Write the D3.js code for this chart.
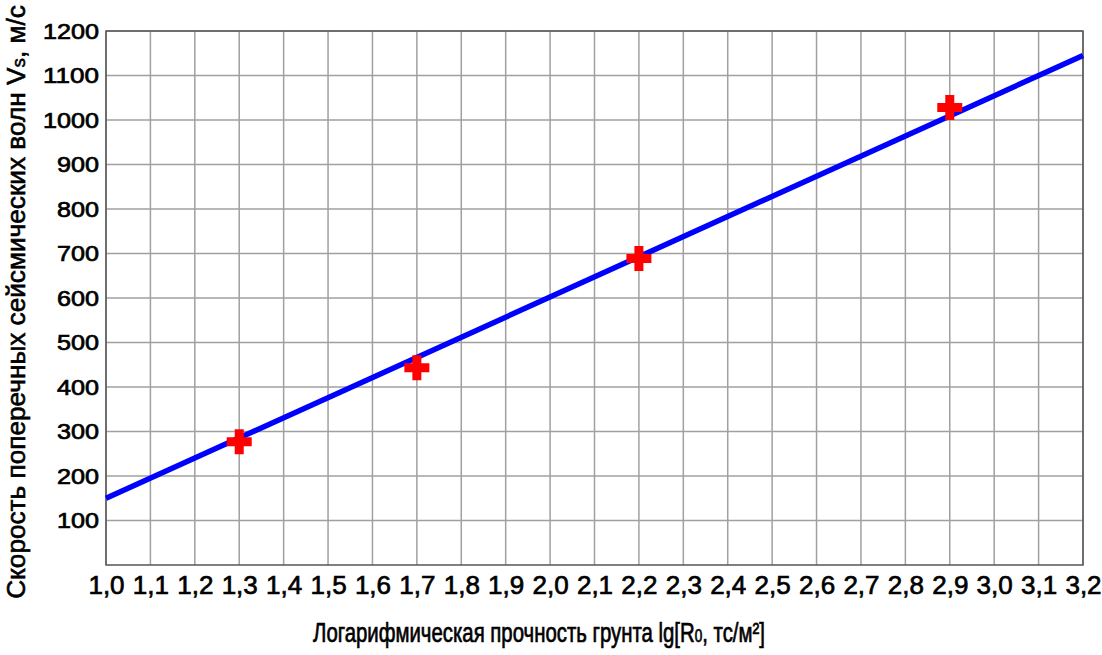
<!DOCTYPE html>
<html>
<head>
<meta charset="utf-8">
<script src="https://cdn.jsdelivr.net/npm/d3@7"></script>
<style>
  body { margin: 0; background: #fff; }
  svg { display: block; font-family: "Liberation Sans", Arial, sans-serif; }
</style>
</head>
<body>
<div id="chart"></div>
<script>
// measured points (lg R0 -> Vs)
const pointX = [1.3, 1.7, 2.2, 2.9];
const pointY = [277, 443, 689, 1028];
// regression line ends
const lineX = [1.0, 3.2];
const lineY = [150, 1145];
const xTicks = d3.range(10, 33).map(d => d / 10);
const yTicks = d3.range(100, 1201, 100);

const W = 1102, H = 655;
const margin = { top: 31, right: 19, bottom: 90, left: 106 };
const width = W - margin.left - margin.right;
const height = H - margin.top - margin.bottom;
const font = '"Liberation Sans", Arial, sans-serif';

const svg = d3.select('#chart').append('svg')
    .attr('width', W)
    .attr('height', H);

const g = svg.append('g')
    .attr('transform', `translate(${margin.left},${margin.top})`);

const x = d3.scaleLinear().domain([1.0, 3.2]).range([0, width]);
const y = d3.scaleLinear().domain([0, 1200]).range([height, 0]);

// grid
g.append('g').selectAll('line').data(xTicks).join('line')
    .attr('x1', d => x(d)).attr('x2', d => x(d))
    .attr('y1', 0).attr('y2', height)
    .attr('stroke', '#a0a0a0').attr('stroke-width', 1.5);
g.append('g').selectAll('line').data(yTicks).join('line')
    .attr('x1', 0).attr('x2', width)
    .attr('y1', d => y(d)).attr('y2', d => y(d))
    .attr('stroke', '#a0a0a0').attr('stroke-width', 1.5);

// frame
g.append('rect')
    .attr('width', width).attr('height', height)
    .attr('fill', 'none').attr('stroke', '#555').attr('stroke-width', 1.5);

// axes (labels only)
const xAxis = g.append('g')
    .attr('transform', `translate(0,${height})`)
    .call(d3.axisBottom(x).tickValues(xTicks).tickSize(0).tickPadding(11)
        .tickFormat(d => d3.format('.1f')(d).replace('.', ',')));
xAxis.select('.domain').remove();
xAxis.selectAll('text')
    .style('font-size', '26px').style('font-family', font)
    .attr('fill', '#000').attr('stroke', '#000').attr('stroke-width', 0.7);

const yAxis = g.append('g')
    .call(d3.axisLeft(y).tickValues(yTicks).tickSize(0).tickPadding(7)
        .tickFormat(d3.format('d')));
yAxis.select('.domain').remove();
yAxis.selectAll('text')
    .style('font-size', '22px').style('font-family', font)
    .attr('fill', '#000').attr('stroke', '#000').attr('stroke-width', 0.7)
    .attr('textLength', d => String(d).length * 14)
    .attr('lengthAdjust', 'spacingAndGlyphs');

// regression line
const lineData = lineX.map((d, i) => [d, lineY[i]]);
g.append('path')
    .datum(lineData)
    .attr('d', d3.line().x(d => x(d[0])).y(d => y(d[1])))
    .attr('stroke', '#0000ff').attr('stroke-width', 5.5).attr('fill', 'none');

// points as plus markers
const plus = 'M-4.5,-12.5H4.5V-4.5H12.5V4.5H4.5V12.5H-4.5V4.5H-12.5V-4.5H-4.5Z';
g.append('g').selectAll('path').data(pointX.map((d, i) => [d, pointY[i]])).join('path')
    .attr('transform', d => `translate(${x(d[0])},${y(d[1])})`)
    .attr('d', plus)
    .attr('fill', '#ff0000');

// axis titles
function title(sel, parts) {
    parts.forEach(p => {
        sel.append('tspan').attr('font-size', p.sub ? 18 : null).text(p.t);
    });
}
const xt = svg.append('text')
    .attr('transform', 'translate(539,642)')
    .attr('text-anchor', 'middle')
    .attr('font-size', 27).attr('font-family', font)
    .attr('stroke', '#000').attr('stroke-width', 0.7);
title(xt, [{ t: 'Логарифмическая прочность грунта lg[R' }, { t: '0', sub: true }, { t: ', тс/м²]' }]);
let bw = xt.node().getBBox().width;
xt.attr('transform', `translate(539,642) scale(${452 / bw},1)`);

const yt = svg.append('text')
    .attr('text-anchor', 'middle')
    .attr('font-size', 25).attr('font-family', font)
    .attr('stroke', '#000').attr('stroke-width', 0.6);
title(yt, [{ t: 'Скорость поперечных сейсмических волн V' }, { t: 's', sub: true }, { t: ', м/с' }]);
bw = yt.node().getBBox().width;
yt.attr('transform', `translate(25,302) rotate(-90) scale(${594 / bw},1)`);
</script>
</body>
</html>
